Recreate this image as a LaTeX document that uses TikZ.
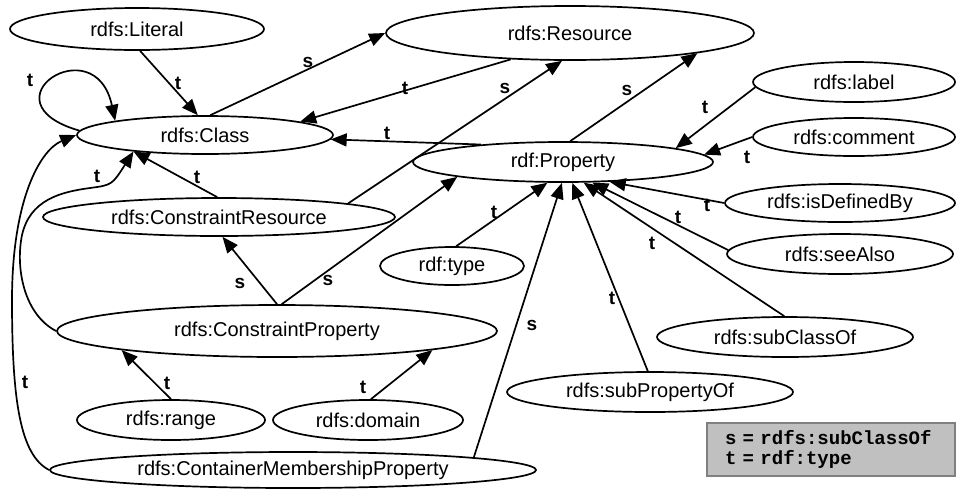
\documentclass[tikz,border=0pt]{standalone}
\usepackage{fontspec}
\setmainfont{Liberation Sans}
\setmonofont{Liberation Mono}
\usetikzlibrary{shapes.geometric, arrows.meta}
\definecolor{legfill}{RGB}{192,192,192}
\definecolor{legdraw}{RGB}{128,128,128}
\begin{document}
\begin{tikzpicture}[x=1pt,y=-1pt,
  ell/.style={draw, ellipse, line width=1.7pt, inner sep=0pt, font=\fontsize{20}{22}\selectfont},
  arr/.style={line width=1.7pt, -{Triangle[length=16pt,width=13pt]}},
  lbl/.style={font=\fontsize{19}{20}\selectfont\bfseries, inner sep=0pt},
  legend/.style={draw=legdraw, fill=legfill, line width=2pt, inner xsep=18pt, inner ysep=0pt,
    text width=212pt, minimum height=53pt, align=left,
    font=\fontsize{19}{20}\selectfont\ttfamily\bfseries},
]
\useasboundingbox (0,0) rectangle (957,491);

% nodes
\node[ell, minimum width=254pt, minimum height=42pt] (lit) at (137,29) {rdfs:Literal};
\node[ell, minimum width=368pt, minimum height=54pt] (res) at (570,33) {rdfs:Resource};
\node[ell, minimum width=256pt, minimum height=38pt] (cls) at (205,135) {rdfs:Class};
\node[ell, minimum width=300pt, minimum height=40pt] (prop) at (563,162) {rdf:Property};
\node[ell, minimum width=202pt, minimum height=40pt] (lab) at (854,82) {rdfs:label};
\node[ell, minimum width=202pt, minimum height=38pt] (com) at (854,137) {rdfs:comment};
\node[ell, minimum width=230pt, minimum height=38pt] (isd) at (840,203) {rdfs:isDefinedBy};
\node[ell, minimum width=226pt, minimum height=40pt] (see) at (840,254) {rdfs:seeAlso};
\node[ell, minimum width=256pt, minimum height=40pt] (sco) at (785,337) {rdfs:subClassOf};
\node[ell, minimum width=286pt, minimum height=40pt] (spo) at (650,392) {rdfs:subPropertyOf};
\node[ell, minimum width=144pt, minimum height=38pt] (typ) at (452,266) {rdf:type};
\node[ell, minimum width=352pt, minimum height=38pt] (cr) at (219,217) {rdfs:ConstraintResource};
\node[ell, minimum width=440pt, minimum height=52pt] (cp) at (277,331) {rdfs:ConstraintProperty};
\node[ell, minimum width=188pt, minimum height=40pt] (rng) at (171,420) {rdfs:range};
\node[ell, minimum width=190pt, minimum height=40pt] (dom) at (368,420) {rdfs:domain};
\node[ell, minimum width=486pt, minimum height=36pt] (cmp) at (293,470) {rdfs:ContainerMembershipProperty};

\node[legend] (leg) at (831,449.5) {s = rdfs:subClassOf\\t = rdf:type};

% edges
\draw[arr] (lit.-82) -- (cls.110) node[lbl, at={(178,83)}] {t};
\draw[arr] (cls.75) -- (res.180) node[lbl, at={(308,62)}] {s};
\draw[arr] (res.-156) -- (cls.8) node[lbl, at={(405,88)}] {t};
\draw[arr] (cls.178) .. controls (-20,102) and (95,26) .. (cls.171) node[lbl, at={(30,80)}] {t};
\draw[arr] (prop.168) -- (cls.-2) node[lbl, at={(387,133)}] {t};
\draw[arr] (cr.6) -- (res.-106) node[lbl, at={(505,88)}] {s};
\draw[arr] (prop.71) -- (res.-9) node[lbl, at={(627,90)}] {s};
\draw[arr] (cr.95) -- (cls.-167) node[lbl, at={(197,177)}] {t};
\draw[arr] (cp.180) .. controls (25,315) and (15,270) .. (22,235)
  .. controls (30,200) and (60,192) .. (90,188)
  .. controls (112,185) .. (cls.-167) node[lbl, at={(97,176)}] {t};
\draw[arr] (cmp.180) .. controls (20,455) and (12,400) .. (12,300)
  .. controls (12,200) and (40,150) .. (cls.180) node[lbl, at={(25,382)}] {t};
\draw[arr] (cp.90) -- (cr.-80) node[lbl, at={(240,283)}] {s};
\draw[arr] (cp.80) -- (prop.-172) node[lbl, at={(328,280)}] {s};
\draw[arr] (rng.90) -- (cp.-173) node[lbl, at={(167,383)}] {t};
\draw[arr] (dom.82) -- (cp.-7) node[lbl, at={(363,387)}] {t};
\draw[arr] (cmp.4) -- (prop.-93) node[lbl, at={(532,325)}] {s};
\draw[arr] (typ.78) -- (prop.-127) node[lbl, at={(494,212)}] {t};
\draw[arr] (spo.96) -- (prop.-66) node[lbl, at={(612,298)}] {t};
\draw[arr] (sco.92) -- (prop.-45) node[lbl, at={(652,243)}] {t};
\draw[arr] (see.178) -- (prop.-35) node[lbl, at={(678,217)}] {t};
\draw[arr] (isd.180) -- (prop.-23) node[lbl, at={(707,205)}] {t};
\draw[arr] (com.180) -- (prop.3) node[lbl, at={(747,157)}] {t};
\draw[arr] (lab.183) -- (prop.7) node[lbl, at={(705,107)}] {t};
\end{tikzpicture}
\end{document}
